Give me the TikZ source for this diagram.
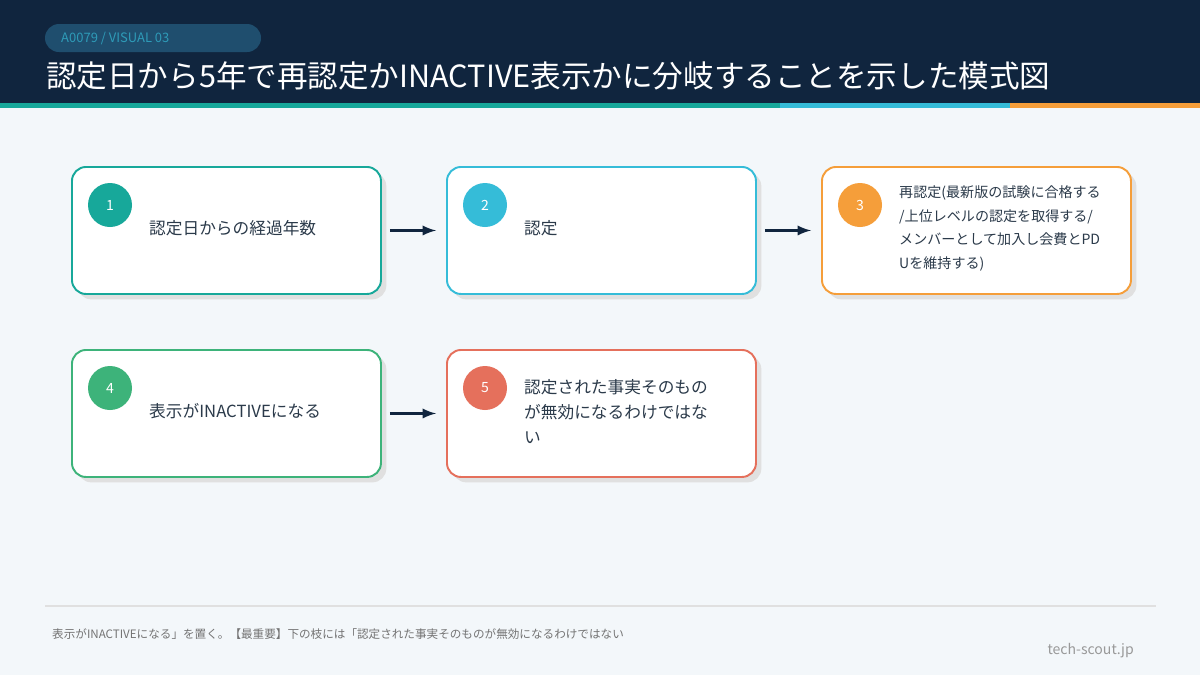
\documentclass[tikz,border=0pt]{standalone}
\usepackage{fontspec}
\setmainfont{Noto Sans CJK JP}
\XeTeXlinebreaklocale "ja"
\XeTeXlinebreakskip=0pt plus 1pt
\usetikzlibrary{calc,positioning}
\definecolor{navy}{HTML}{10253E}
\definecolor{pill}{HTML}{1F4E6E}
\definecolor{cteal}{HTML}{17A89A}
\definecolor{ccyan}{HTML}{35BCD8}
\definecolor{corange}{HTML}{F59E3A}
\definecolor{cgreen}{HTML}{3DB37A}
\definecolor{cred}{HTML}{E5705C}
\definecolor{bgc}{HTML}{F3F7FA}
\definecolor{txt}{HTML}{2B3A4A}
\tikzset{
  card/.style={rectangle, rounded corners=0.28cm, draw=#1, line width=1.1pt, fill=white,
    minimum width=6.18cm, minimum height=2.54cm, anchor=north west},
  shade/.style={rectangle, rounded corners=0.28cm, fill=black!12,
    minimum width=6.18cm, minimum height=2.54cm, anchor=north west},
  num/.style={circle, fill=#1, minimum size=0.88cm, inner sep=0pt, text=white, font=\fontsize{8}{8}\selectfont},
  label/.style={anchor=west, text=txt, font=\fontsize{9.5}{14}\selectfont, align=left},
  flow/.style={-latex, line width=1.6pt, draw=navy, shorten <=0.16cm, shorten >=0.2cm}
}
\begin{document}
\begin{tikzpicture}
  \useasboundingbox (0,0) rectangle (24,-13.5);
  \fill[bgc] (0,0) rectangle (24,-13.5);
  % header
  \fill[navy] (0,0) rectangle (24,-2.06);
  \fill[cteal] (0,-2.06) rectangle (15.6,-2.16);
  \fill[ccyan] (15.6,-2.06) rectangle (20.2,-2.16);
  \fill[corange] (20.2,-2.06) rectangle (24,-2.16);
  \fill[pill, rounded corners=0.28cm] (0.9,-0.48) rectangle (5.22,-1.04);
  \node[anchor=west, text=ccyan!70!pill, font=\fontsize{7.4}{7}\selectfont] (tag) at (1.1,-0.76) {A0079 / VISUAL 03};
  \node[anchor=west, text=white, font=\fontsize{17.4}{17}\selectfont] (title) at (0.8,-1.52) {認定日から5年で再認定かINACTIVE表示かに分岐することを示した模式図};
  % shadows
  \foreach \x/\y in {1.42/-3.32, 8.92/-3.32, 16.42/-3.32, 1.42/-6.98, 8.92/-6.98}
    \node[shade] at (\x+0.12,\y-0.12) {};
  % cards
  \node[card=cteal] (b1) at (1.42,-3.32) {};
  \node[card=ccyan] (b2) at (8.92,-3.32) {};
  \node[card=corange] (b3) at (16.42,-3.32) {};
  \node[card=cgreen] (b4) at (1.42,-6.98) {};
  \node[card=cred] (b5) at (8.92,-6.98) {};
  % numbers
  \node[num=cteal] (n1) at ($(b1.north west)+(0.78,-0.78)$) {1};
  \node[num=ccyan] (n2) at ($(b2.north west)+(0.78,-0.78)$) {2};
  \node[num=corange] (n3) at ($(b3.north west)+(0.78,-0.78)$) {3};
  \node[num=cgreen] (n4) at ($(b4.north west)+(0.78,-0.78)$) {4};
  \node[num=cred] (n5) at ($(b5.north west)+(0.78,-0.78)$) {5};
  % texts
  \node[label] (t1) at ($(b1.west)+(1.44,0.04)$) {認定日からの経過年数};
  \node[label, font=\fontsize{8}{13.5}\selectfont] (t3) at ($(b3.west)+(1.44,0.04)$) {再認定(最新版の試験に合格する\\/上位レベルの認定を取得する/\\メンバーとして加入し会費とPD\\Uを維持する)};
  \node[label] (t2) at ($(b2.west)+(1.44,0.04)$) {認定};
  \node[label] (t4) at ($(b4.west)+(1.44,0.04)$) {表示がINACTIVEになる};
  \node[label] (t5) at ($(b5.west)+(1.44,0.04)$) {認定された事実そのもの\\が無効になるわけではな\\い};
  % arrows
  \draw[flow] (b1.east) -- (b2.west);
  \draw[flow] (b2.east) -- (b3.west);
  \draw[flow] (b4.east) -- (b5.west);
  % footer
  \draw[black!12, line width=1.2pt] (0.9,-12.12) -- (23.12,-12.12);
  \node[anchor=west, text=black!55, font=\fontsize{6.6}{7}\selectfont] (note) at (0.92,-12.68) {表示がINACTIVEになる」を置く。【最重要】下の枝には「認定された事実そのものが無効になるわけではない};
  \node[anchor=east, text=black!40, font=\fontsize{8}{8}\selectfont] (site) at (22.8,-13.02) {tech-scout.jp};
\end{tikzpicture}
\end{document}
